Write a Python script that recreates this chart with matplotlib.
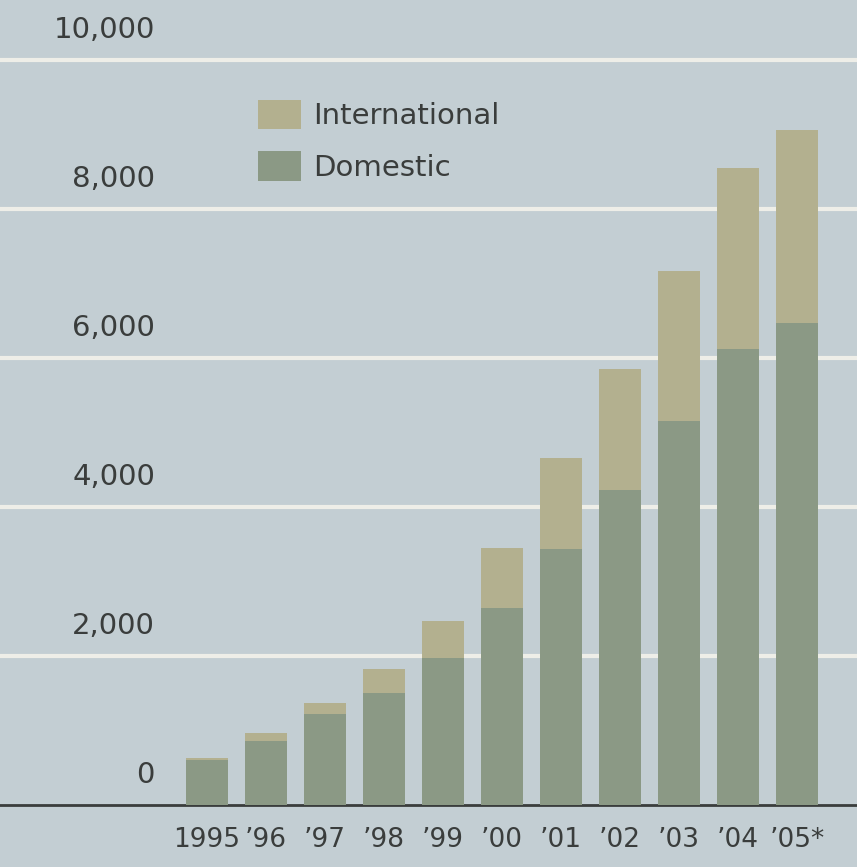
import matplotlib

matplotlib.use("Agg")
import matplotlib.pyplot as plt
import numpy as np
from matplotlib.patches import Patch

years = ["1995", "\u201996", "\u201997", "\u201998", "\u201999", "\u201900",
         "\u201901", "\u201902", "\u201903", "\u201904", "\u201905*"]
domestic = [600, 860, 1220, 1500, 1970, 2640, 3440, 4220, 5150, 6120, 6470]
total = [630, 970, 1370, 1830, 2470, 3450, 4660, 5850, 7170, 8540, 9050]
international = [t - d for t, d in zip(total, domestic)]
yticks = [0, 2000, 4000, 6000, 8000, 10000]

BG = "#c3ced3"
GRID = "#eeeee8"
INTL = "#b3b08f"
DOM = "#8b9985"
INK = "#3a3d3c"

plt.rcParams["font.family"] = ["DejaVu Sans"]

fig = plt.figure(figsize=(8.57, 8.67), dpi=100, facecolor=BG)
ax = fig.add_axes([0, 62 / 867, 1, 805 / 867])
ax.set_facecolor(BG)

x = np.arange(len(years))
ax.bar(x, domestic, width=0.71, color=DOM, zorder=3)
ax.bar(x, international, bottom=domestic, width=0.71, color=INTL, zorder=3)

ax.set_xlim(-207 / 59, 650 / 59)
ax.set_ylim(0, 10800)

for v in yticks[1:]:
    ax.axhline(v, color=GRID, lw=3, zorder=1)
for v in yticks:
    ax.text(155 / 59 - 207 / 59, v + 400, f"{v:,}", ha="right", va="center",
            fontsize=21, color=INK, zorder=4)

ax.set_yticks([])
ax.set_xticks(x)
ax.set_xticklabels(years, fontsize=19, color=INK)
ax.tick_params(axis="x", length=0, pad=16)
for side in ["top", "left", "right"]:
    ax.spines[side].set_visible(False)
ax.spines["bottom"].set_color(INK)
ax.spines["bottom"].set_linewidth(2)

handles = [Patch(facecolor=INTL), Patch(facecolor=DOM)]
ax.legend(handles, ["International", "Domestic"], loc="upper left",
          bbox_to_anchor=(243 / 857, 1 - 85 / 805), frameon=False,
          fontsize=21, handlelength=1.5, handleheight=1.2,
          handletextpad=0.4, labelspacing=0.7, borderpad=0,
          labelcolor=INK)

fig.savefig("out.png", dpi=100, facecolor=BG)
